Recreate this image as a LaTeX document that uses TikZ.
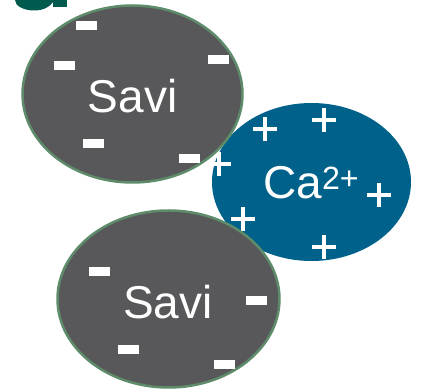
\documentclass[tikz,border=0pt]{standalone}
\usepackage{fontspec}
\setmainfont{Liberation Sans}
\definecolor{savigray}{HTML}{58585A}
\definecolor{savirim}{HTML}{5E8C6A}
\definecolor{cablue}{HTML}{00618A}
\definecolor{titleteal}{HTML}{005A4E}
\tikzset{
  savibody/.style={ellipse, fill=savigray, draw=savirim, line width=2.5pt, inner sep=0pt},
  cabody/.style={ellipse, fill=cablue, inner sep=0pt},
  minusbar/.style={rectangle, fill=white, minimum width=21pt, minimum height=9pt, inner sep=0pt},
  bigtext/.style={text=white, font=\fontsize{46}{46}\selectfont, inner sep=0pt},
  pics/plussign/.style={code={
    \fill[white] (-12,-2) rectangle (12,2);
    \fill[white] (-2,-12) rectangle (2,12);
  }}
}
\usetikzlibrary{shapes.geometric}
\begin{document}
\begin{tikzpicture}[x=1pt,y=-1pt]
\useasboundingbox (0,0) rectangle (424,390);
% title fragment
\fill[titleteal] (15,0) .. controls (15,6) and (24,10.5) .. (34,10.5)
  .. controls (43,10.5) and (50,7) .. (53,2) -- (53,0) -- cycle;
\fill[titleteal] (53,0) rectangle (67,7.5);
% Ca ellipse
\node[cabody, minimum width=199pt, minimum height=158pt] (ca) at (311.5,182) {};
\pic at (265,129) {plussign};
\pic at (324,120) {plussign};
\pic at (219,164) {plussign};
\pic at (379,195) {plussign};
\pic at (243,219) {plussign};
\pic at (324,247) {plussign};
% Savi ellipses
\node[savibody, minimum width=220pt, minimum height=177pt] (s1) at (132.5,94) {};
\node[savibody, minimum width=222pt, minimum height=177pt] (s2) at (168.5,299) {};
% minus signs
\node[minusbar] (m1) at (86.5,25.5) {};
\node[minusbar] (m2) at (64.5,65.5) {};
\node[minusbar] (m3) at (218.5,59.5) {};
\node[minusbar] (m4) at (93.5,143.5) {};
\node[minusbar] (m5) at (189.5,158.5) {};
\node[minusbar] (m6) at (99.5,271.5) {};
\node[minusbar] (m7) at (256.5,301) {};
\node[minusbar] (m8) at (128.5,349.5) {};
\node[minusbar] (m9) at (224.5,364.5) {};
% labels
\node[bigtext] (t1) at (132.5,96) {Savi};
\node[bigtext] (t2) at (168,302) {Savi};
\node[bigtext, anchor=base west] (t3) at (263,199) {Ca\textsuperscript{2+}};
\end{tikzpicture}
\end{document}
